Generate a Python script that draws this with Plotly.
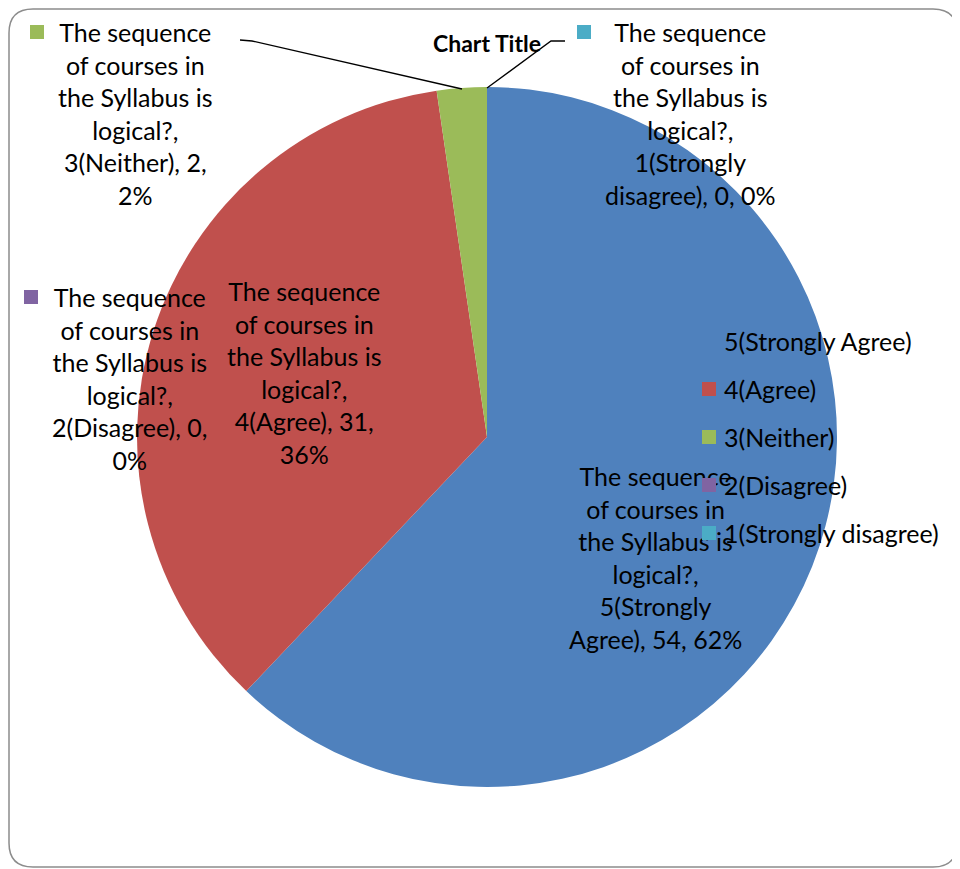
import plotly.graph_objects as go

# the page puts the plot 8px in from the top-left corner, so work in
# screen pixels and shift by that offset
OFF = 8
W, H = 960 - OFF, 869 - OFF

question = "The sequence of courses in the Syllabus is logical?"
categories = ["5(Strongly Agree)", "4(Agree)", "3(Neither)", "2(Disagree)", "1(Strongly disagree)"]
counts = [54, 31, 2, 0, 0]
colors = ["#4F81BD", "#C0504D", "#9BBB59", "#8064A2", "#4BACC6"]

FONT = "Lato, Open Sans, sans-serif"
FS = 25


def px(x):
    return (x - OFF) / W


def py(y):
    return 1 - (y - OFF) / H


total = sum(counts)
pct = [round(100 * c / total) for c in counts]

fig = go.Figure(go.Pie(
    labels=categories,
    values=counts,
    sort=False,
    direction="clockwise",
    rotation=0,
    marker=dict(colors=colors, line=dict(width=0)),
    textinfo="none",
    hoverinfo="label+value+percent",
    showlegend=False,
    domain=dict(x=[px(137), px(837)], y=[py(787), py(87)]),
))


def key_square(x, y, color):
    # small coloured square drawn as an annotation so it sits above the texts
    return dict(x=px(x), y=py(y), xref="paper", yref="paper", showarrow=False,
                xanchor="center", yanchor="middle", text=" ", width=14, height=14,
                bgcolor=color, borderpad=0, borderwidth=0, font=dict(size=1))


# data labels (excel style, wrapped); centre x, centre y, wrapped text, key square
label_pos = {
    0: (655, 557, "The sequence<br>of courses in<br>the Syllabus is<br>logical?,<br>5(Strongly<br>Agree), {n}, {p}%", None),
    1: (304, 372, "The sequence<br>of courses in<br>the Syllabus is<br>logical?,<br>4(Agree), {n},<br>{p}%", None),
    2: (135, 114, "The sequence<br>of courses in<br>the Syllabus is<br>logical?,<br>3(Neither), {n},<br>{p}%", (37, 32)),
    3: (130, 378, "The sequence<br>of courses in<br>the Syllabus is<br>logical?,<br>2(Disagree), {n},<br>{p}%", (31, 297)),
    4: (690, 114, "The sequence<br>of courses in<br>the Syllabus is<br>logical?,<br>1(Strongly<br>disagree), {n}, {p}%", (584, 32)),
}

shapes = []
annotations = []
for i, (cx, cy, wrap, key) in label_pos.items():
    annotations.append(dict(
        x=px(cx), y=py(cy), xref="paper", yref="paper", showarrow=False,
        xanchor="center", yanchor="middle",
        text=wrap.format(n=counts[i], p=pct[i]), align="center",
        font=dict(family=FONT, size=FS, color="#000000"),
    ))
    if key:
        annotations.append(key_square(key[0], key[1], colors[i]))

# leader lines for the small slices
shapes.append(dict(type="path", xref="paper", yref="paper",
                   path=f"M {px(240)},{py(40)} L {px(252)},{py(41)} L {px(462)},{py(89)}",
                   line=dict(color="#000000", width=1.3)))
shapes.append(dict(type="path", xref="paper", yref="paper",
                   path=f"M {px(565)},{py(41)} L {px(551)},{py(41)} L {px(487)},{py(88)}",
                   line=dict(color="#000000", width=1.3)))

# legend drawn inside the plot area
for i, cat in enumerate(categories):
    ly = 341 + 48 * i
    annotations.append(key_square(709, ly, colors[i]))
    annotations.append(dict(
        x=px(722), y=py(ly), xref="paper", yref="paper", showarrow=False,
        xanchor="left", yanchor="middle", text=cat,
        font=dict(family=FONT, size=FS, color="#000000"),
    ))

# title
annotations.append(dict(
    x=px(487), y=py(43), xref="paper", yref="paper", showarrow=False,
    xanchor="center", yanchor="middle",
    text="<b>Chart Title</b>", font=dict(family=FONT, size=23, color="#000000"),
))

# rounded chart frame
r = 24
x0, y0, x1, y1 = 9, 9, 957, 867
frame = (f"M {px(x0 + r)},{py(y0)} L {px(x1 - r)},{py(y0)} "
         f"Q {px(x1)},{py(y0)} {px(x1)},{py(y0 + r)} L {px(x1)},{py(y1 - r)} "
         f"Q {px(x1)},{py(y1)} {px(x1 - r)},{py(y1)} L {px(x0 + r)},{py(y1)} "
         f"Q {px(x0)},{py(y1)} {px(x0)},{py(y1 - r)} L {px(x0)},{py(y0 + r)} "
         f"Q {px(x0)},{py(y0)} {px(x0 + r)},{py(y0)} Z")
shapes.append(dict(type="path", xref="paper", yref="paper", path=frame,
                   line=dict(color="#8C8C8C", width=1.5), layer="below"))

fig.update_layout(
    width=W, height=H,
    margin=dict(l=0, r=0, t=0, b=0),
    paper_bgcolor="#FFFFFF",
    plot_bgcolor="#FFFFFF",
    shapes=shapes,
    annotations=annotations,
)

fig.write_html("out.html")
